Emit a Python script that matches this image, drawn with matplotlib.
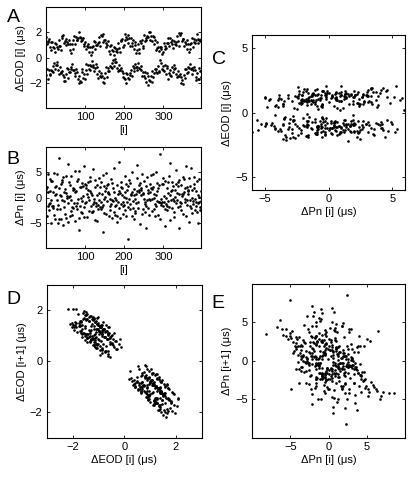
import matplotlib
matplotlib.use('Agg')
import matplotlib.pyplot as plt

# EOD timing jitter and pacemaker jitter for successive cycles (us)
eod = [1.61, -1.42, 1.08, -0.94, 1.35, -1.71, 1.21, -1.02, 1.49, -1.28,
       0.83, -1.38, 1.24, -0.95, 0.59, -1.08, 1.27, -0.69, 0.88, -1.15,
       0.76, -0.41, 1.13, -0.88, 0.47, -0.62, 1.04, -0.31, 0.81, -0.56,
       0.67, -1.02, 0.89, -1.29, 1.37, -0.75, 0.96, -1.16, 0.63, -1.22,
       1.73, -1.09, 1.59, -1.35, 1.76, -1.83, 1.15, -1.54, 1.31, -1.89,
       1.51, -1.32, 0.98, -0.84, 1.25, -1.61, 1.11, -0.92, 1.39, -1.18,
       0.63, -1.18, 1.04, -0.75, 0.39, -0.88, 1.07, -0.49, 0.68, -0.95,
       1.36, -1.01, 1.73, -1.48, 1.07, -1.22, 1.64, -0.91, 1.41, -1.16,
       1.37, -1.72, 1.59, -1.99, 2.07, -1.45, 1.66, -1.86, 1.33, -1.92,
       1.53, -0.89, 1.39, -1.15, 1.56, -1.63, 0.95, -1.34, 1.11, -1.69,
       1.21, -1.02, 0.68, -0.54, 0.95, -1.31, 0.81, -0.62, 1.09, -0.88,
       0.43, -0.98, 0.84, -0.55, 0.19, -0.68, 0.87, -0.29, 0.48, -0.75,
       0.96, -0.61, 1.33, -1.08, 0.67, -0.82, 1.24, -0.51, 1.01, -0.76,
       0.97, -1.32, 1.19, -1.59, 1.67, -1.05, 1.26, -1.46, 0.93, -1.52,
       1.83, -1.19, 1.69, -1.45, 1.86, -1.93, 1.25, -1.64, 1.41, -1.99,
       1.41, -1.22, 0.88, -0.74, 1.15, -1.51, 1.01, -0.82, 1.29, -1.08,
       0.53, -1.08, 0.94, -0.65, 0.29, -0.78, 0.97, -0.39, 0.58, -0.85,
       0.51, -0.16, 0.88, -0.63, 0.22, -0.37, 0.79, -0.12, 0.56, -0.31,
       0.47, -0.82, 0.69, -1.09, 1.17, -0.55, 0.76, -0.96, 0.43, -1.02,
       1.43, -0.79, 1.29, -1.05, 1.46, -1.53, 0.85, -1.24, 1.01, -1.59,
       1.91, -1.72, 1.38, -1.24, 1.65, -2.01, 1.51, -1.32, 1.79, -1.58,
       1.13, -1.68, 1.54, -1.25, 0.89, -1.38, 1.57, -0.99, 1.18, -1.45,
       0.93, -0.64, 1.36, -1.05, 0.69, -0.79, 1.27, -0.48, 1.03, -0.74,
       0.37, -0.72, 0.59, -0.99, 1.07, -0.45, 0.66, -0.86, 0.33, -0.92,
       1.33, -0.69, 1.19, -0.95, 1.36, -1.43, 0.75, -1.14, 0.91, -1.49,
       1.81, -1.62, 1.28, -1.14, 1.55, -1.91, 1.41, -1.22, 1.69, -1.48,
       1.63, -2.18, 2.04, -1.75, 1.39, -1.88, 2.07, -1.49, 1.68, -1.95,
       1.33, -1.04, 1.71, -1.51, 1.09, -1.19, 1.66, -0.88, 1.43, -1.14,
       0.57, -0.92, 0.79, -1.19, 1.27, -0.65, 0.86, -1.06, 0.53, -1.12,
       0.83, -0.19, 0.69, -0.45, 0.86, -0.93, 0.25, -0.64, 0.41, -0.99,
       1.18, -1.05, 0.66, -0.57, 0.93, -1.34, 0.78, -0.64, 1.12, -0.86,
       1.16, -1.66, 1.57, -1.22, 0.91, -1.36, 1.59, -0.97, 1.21, -1.43,
       1.06, -0.71, 1.43, -1.18, 0.77, -0.92, 1.34, -0.61, 1.11, -0.86,
       0.99, -1.29, 1.22, -1.57, 1.69, -1.03, 1.28, -1.44, 0.96, -1.49,
       1.93, -1.29, 1.79, -1.55, 1.96, -2.03, 1.35, -1.74, 1.51, -2.09,
       1.48, -1.35, 0.96, -0.87, 1.23, -1.64, 1.09, -0.94, 1.37, -1.21,
       0.66, -1.15, 1.07, -0.72, 0.42, -0.86, 1.09, -0.47, 0.71, -0.93,
       1.16, -0.81, 1.53, -1.28, 0.87, -1.02, 1.44, -0.71, 1.21, -0.96,
       1.17, -1.52, 1.39, -1.79, 1.87, -1.25, 1.46, -1.66, 1.13, -1.72,
       1.43, -0.79, 1.29, -1.05, 1.46, -1.53]

pn = [1.0, 1.7, -3.7, 2.0, 1.0, -1.6, 4.6, -2.5, -1.2, 3.6,
      -1.1, 1.3, -5.0, 3.2, -0.5, -1.7, 3.3, -1.7, -2.1, 1.0,
      4.8, -3.5, 0.5, 2.1, -4.2, 2.3, 0.6, -0.5, -2.2, 4.6,
      -1.4, -5.0, 7.9, -4.2, 1.8, 0.4, -2.2, 0.3, 2.7, -4.2,
      3.1, -0.5, 3.5, -5.5, 4.1, -1.8, -0.6, 1.0, 1.6, -3.3,
      0.8, 4.3, -4.0, -0.1, 0.3, -1.0, 6.7, -4.9, 3.0, 0.1,
      -3.6, 0.3, 2.4, -0.4, -2.7, 4.2, -1.8, -3.5, 1.9, 1.4,
      -2.1, 1.7, -1.1, 5.2, -4.6, 1.0, 1.3, -1.7, -2.3, 3.3,
      -1.1, -0.3, 3.7, -6.4, 5.3, -4.0, 2.0, -1.6, 2.1, -2.8,
      0.0, 2.9, -0.6, -3.1, 2.3, 0.3, -1.9, 6.3, -3.9, -1.0,
      2.6, -0.8, 2.4, 1.9, 0.7, -3.8, 3.1, 0.2, 1.4, -2.6,
      -0.5, 4.0, 3.3, 1.2, 0.9, -1.7, -2.9, -2.8, 0.4, -1.3,
      5.6, -2.7, -0.2, -0.9, 3.4, -4.4, 2.0, -1.1, -1.6, 0.5,
      -4.7, 2.5, -1.5, -2.2, -0.4, 0.8, 3.9, 2.0, -1.8, 3.1,
      -0.9, -2.3, -1.8, 0.6, -6.8, 4.4, -1.4, -0.3, 2.2, -3.0,
      1.3, 0.1, 1.9, 4.9, -3.2, 2.4, -0.7, 1.1, 0.9, 2.7,
      -3.6, 0.7, -1.6, -0.3, -2.5, 3.7, -1.2, -0.5, -4.1, 2.9,
      -0.6, 1.9, 1.0, -2.8, 5.9, -3.4, 0.0, -1.7, -0.5, -1.5,
      2.4, -4.9, -3.6, -0.8, 0.6, 1.3, -2.1, 7.1, -4.0, 0.8,
      -1.2, 2.0, 3.1, 0.4, 1.8, -0.9, -1.7, -3.2, -1.4, 0.2,
      4.3, -2.4, 1.0, 2.6, -0.1, -3.6, 1.4, -0.9, -1.9, 2.3,
      -8.2, 3.5, -0.3, -1.3, 2.8, -2.2, 0.6, 0.4, 5.1, -3.7,
      1.0, -0.7, -2.1, -4.3, 1.6, 0.4, -2.6, -3.0, -0.2, -1.1,
      0.7, 6.4, 3.9, 1.2, -0.8, -2.0, 2.5, 1.5, 1.1, -5.3,
      2.9, 0.5, 1.4, 1.9, -3.2, 4.7, -2.3, 0.6, 0.8, -0.3,
      3.3, -2.9, -1.3, -0.9, -1.6, 2.2, -6.1, 4.1, -0.4, 0.9,
      -2.0, 1.5, -0.2, -3.4, 2.7, -0.5, 1.0, 1.8, 4.5, -2.6,
      -0.3, 1.7, 4.6, 2.0, 0.6, -0.1, -2.3, -3.6, -1.3, 0.4,
      -1.7, 5.0, 2.8, -0.6, 1.2, 1.8, -3.5, -0.8, -0.9, 2.4,
      8.5, -4.2, -1.1, -0.2, -1.5, 2.6, -0.8, 2.7, 3.8, -1.6,
      0.3, -0.9, -2.2, -5.6, 3.2, 0.0, -1.2, -1.6, -2.4, 1.9,
      -0.7, 0.8, 3.0, 4.2, -1.9, 0.5, 6.9, -4.5, 1.3, -0.4,
      -2.1, 3.1, 1.5, -0.3, 2.3, -0.6, -3.9, -2.8, 0.2, 1.4,
      -1.0, 5.4, 2.6, 0.9, -0.5, -1.8, 3.0, 2.2, 0.6, -6.0,
      3.4, -0.8, -1.7, -1.1, -2.4, 2.5, 0.3, 0.7, 4.0, -3.3,
      0.6, 1.1, 3.7, 1.8, -0.2, -0.9, 6.2, -3.6, 2.1, -1.4,
      -0.5, 1.4, 1.2, 0.7, -4.8, 3.9, -1.6, -0.4, 2.2, -2.0,
      5.8, -3.1, -0.1, 1.5, -1.3, -0.6, 2.7, 4.1, 1.9, -0.3,
      -2.5, 1.2, -0.9, -1.7, 3.3, -2.9, 0.5, -1.0, -5.0, 3.6,
      -0.8, 0.2, -2.4, -1.9, 1.3, -0.6]

idx = list(range(1, len(eod) + 1))

plt.rcParams['font.family'] = ['Liberation Sans', 'DejaVu Sans']
plt.rcParams['font.size'] = 8

fig = plt.figure(figsize=(4.18, 4.8), dpi=100)


def style(ax):
    ax.tick_params(direction='in', top=True, right=True, length=2.5,
                   width=0.6, labelsize=8, pad=3)
    for s in ax.spines.values():
        s.set_linewidth(0.8)
    ax.yaxis.labelpad = 2
    ax.xaxis.labelpad = 2


def dots(ax, x, y):
    ax.plot(x, y, 'o', color='k', ms=1.9, mew=0)


# A: EOD jitter vs cycle
axA = fig.add_axes([0.110, 0.775, 0.371, 0.210])
dots(axA, idx, eod)
axA.set_xlim(1, 396)
axA.set_ylim(-4, 4)
axA.set_xticks([100, 200, 300])
axA.set_yticks([-2, 0, 2])
axA.set_xlabel('[i]')
axA.set_ylabel('ΔEOD [i] (μs)')
style(axA)

# B: pacemaker jitter vs cycle
axB = fig.add_axes([0.110, 0.483, 0.371, 0.211])
dots(axB, idx, pn)
axB.set_xlim(1, 396)
axB.set_ylim(-10, 10)
axB.set_xticks([100, 200, 300])
axB.set_yticks([-5, 0, 5])
axB.set_xlabel('[i]')
axB.set_ylabel('ΔPn [i] (μs)')
style(axB)

# C: EOD vs pacemaker
axC = fig.add_axes([0.603, 0.604, 0.366, 0.323])
dots(axC, pn, eod)
axC.set_xlim(-6, 6)
axC.set_ylim(-6, 6)
axC.set_xticks([-5, 0, 5])
axC.set_yticks([-5, 0, 5])
axC.set_xlabel('ΔPn [i] (μs)')
axC.set_ylabel('ΔEOD [i] (μs)')
style(axC)

# D: return map of EOD jitter
axD = fig.add_axes([0.112, 0.0875, 0.371, 0.319])
dots(axD, eod[:-1], eod[1:])
axD.set_xlim(-3, 3)
axD.set_ylim(-3, 3)
axD.set_xticks([-2, 0, 2])
axD.set_yticks([-2, 0, 2])
axD.set_xlabel('ΔEOD [i] (μs)')
axD.set_ylabel('ΔEOD [i+1] (μs)')
style(axD)

# E: return map of pacemaker jitter
axE = fig.add_axes([0.603, 0.0875, 0.366, 0.321])
dots(axE, pn[:-1], pn[1:])
axE.set_xlim(-10, 10)
axE.set_ylim(-10, 10)
axE.set_xticks([-5, 0, 5])
axE.set_yticks([-5, 0, 5])
axE.set_xlabel('ΔPn [i] (μs)')
axE.set_ylabel('ΔPn [i+1] (μs)')
style(axE)

for lab, x, y in [('A', 13, 17), ('B', 13, 159), ('C', 219, 60),
                  ('D', 13, 300), ('E', 218, 304)]:
    fig.text(x / 418, 1 - y / 480, lab, fontsize=14, ha='center', va='center')

fig.savefig('out.png', dpi=100)
